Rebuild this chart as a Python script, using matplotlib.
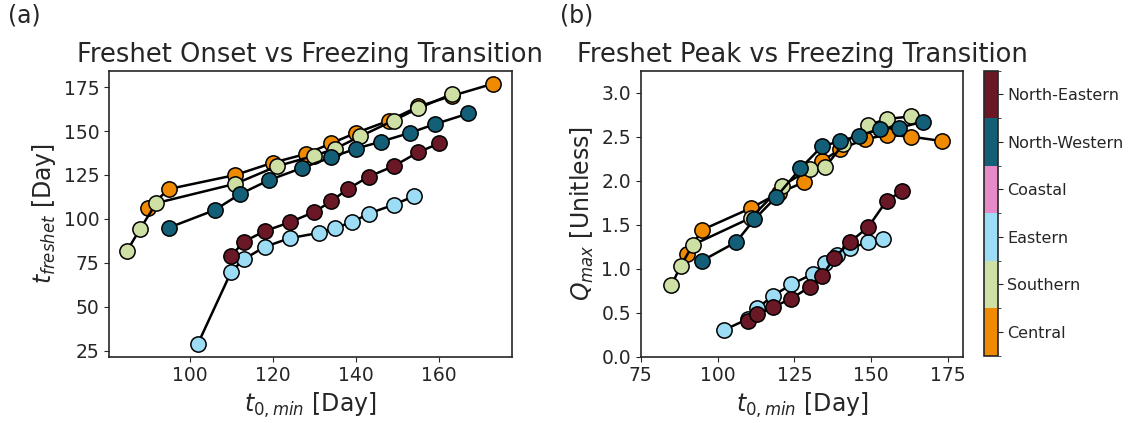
import numpy as np
import matplotlib
matplotlib.use("Agg")
import matplotlib.pyplot as plt
from matplotlib.colors import ListedColormap, BoundaryNorm
from matplotlib.cm import ScalarMappable

# region order (bottom to top in the colour bar)
regions = ["Central", "Southern", "Eastern", "Coastal", "North-Western", "North-Eastern"]
region_colors = ["#F08A00", "#CFE0A4", "#9CDCF5", "#E78AC8", "#135F78", "#6A1726"]

# t0,min [day] per region
x_central = [90, 95, 111, 120, 128, 134, 140, 148, 155, 163, 173]
x_southern = [85, 88, 92, 111, 121, 130, 135, 141, 149, 155, 163]
x_eastern = [102, 110, 113, 118, 124, 131, 135, 139, 143, 149, 154]
x_nwestern = [95, 106, 112, 119, 127, 134, 140, 146, 153, 159, 167]
x_neastern = [110, 113, 118, 124, 130, 134, 138, 143, 149, 155, 160]

# freshet onset [day]
onset_central = [106, 117, 125, 132, 137, 143, 149, 156, 164, 170, 177]
onset_southern = [82, 94, 109, 120, 130, 136, 140, 147, 156, 163, 171]
onset_eastern = [29, 70, 77, 84, 89, 92, 95, 98, 103, 108, 113]
onset_nwestern = [95, 105, 114, 122, 129, 135, 140, 144, 149, 154, 160]
onset_neastern = [79, 87, 93, 98, 104, 110, 117, 124, 130, 138, 143]

# freshet peak Q_max [unitless]
peak_central = [1.17, 1.44, 1.69, 1.86, 1.98, 2.22, 2.36, 2.47, 2.52, 2.50, 2.45]
peak_southern = [0.81, 1.03, 1.27, 1.58, 1.94, 2.13, 2.15, 2.42, 2.63, 2.70, 2.73]
peak_eastern = [0.30, 0.43, 0.55, 0.69, 0.82, 0.94, 1.06, 1.15, 1.23, 1.30, 1.34]
peak_nwestern = [1.09, 1.30, 1.56, 1.81, 2.14, 2.39, 2.45, 2.51, 2.59, 2.60, 2.67]
peak_neastern = [0.40, 0.48, 0.56, 0.66, 0.79, 0.92, 1.12, 1.30, 1.47, 1.77, 1.88]

series = [
    (x_central, onset_central, peak_central, region_colors[0]),
    (x_southern, onset_southern, peak_southern, region_colors[1]),
    (x_eastern, onset_eastern, peak_eastern, region_colors[2]),
    (x_nwestern, onset_nwestern, peak_nwestern, region_colors[4]),
    (x_neastern, onset_neastern, peak_neastern, region_colors[5]),
]

plt.rcParams.update({
    "font.family": "DejaVu Sans",
    "axes.edgecolor": "#262626",
    "text.color": "#262626",
    "axes.labelcolor": "#262626",
    "xtick.color": "#262626",
    "ytick.color": "#262626",
    "axes.linewidth": 1.2,
})

fig = plt.figure(figsize=(11.28, 4.23), dpi=100)
ax1 = fig.add_axes([0.0966, 0.157, 0.357, 0.676])
ax2 = fig.add_axes([0.568, 0.157, 0.286, 0.676])
cax = fig.add_axes([0.872, 0.159, 0.0124, 0.674])

for x, onset, peak, c in series:
    ax1.plot(x, onset, "-o", color="black", lw=1.8, ms=11, mfc=c, mec="black", mew=1.1)
    ax2.plot(x, peak, "-o", color="black", lw=1.8, ms=11, mfc=c, mec="black", mew=1.1)

ax1.set_title("Freshet Onset vs Freezing Transition", fontsize=18.5)
ax1.set_xlabel(r"$t_{0,min}$ [Day]", fontsize=17)
ax1.set_ylabel(r"$t_{freshet}$ [Day]", fontsize=17)
ax1.set_xticks([100, 120, 140, 160])
ax1.set_yticks([25, 50, 75, 100, 125, 150, 175])
ax1.tick_params(labelsize=13.5)
ax1.text(-0.25, 1.17, "(a)", transform=ax1.transAxes, fontsize=17)

ax2.set_title("Freshet Peak vs Freezing Transition", fontsize=18.5)
ax2.set_xlabel(r"$t_{0,min}$ [Day]", fontsize=17)
ax2.set_ylabel(r"$Q_{max}$ [Unitless]", fontsize=17)
ax2.set_xlim(75, 180)
ax2.set_ylim(0, 3.25)
ax2.set_xticks([75, 100, 125, 150, 175])
ax2.set_yticks([0.0, 0.5, 1.0, 1.5, 2.0, 2.5, 3.0])
ax2.tick_params(labelsize=13.5)
ax2.text(-0.25, 1.17, "(b)", transform=ax2.transAxes, fontsize=17)

cmap = ListedColormap(region_colors)
norm = BoundaryNorm(np.arange(len(regions) + 1), cmap.N)
cb = fig.colorbar(ScalarMappable(norm=norm, cmap=cmap), cax=cax)
cb.set_ticks(np.arange(len(regions)) + 0.5)
cb.set_ticklabels(regions)
cb.ax.tick_params(labelsize=11.5)
cb.outline.set_edgecolor("#262626")

fig.savefig("out.png", dpi=100)
